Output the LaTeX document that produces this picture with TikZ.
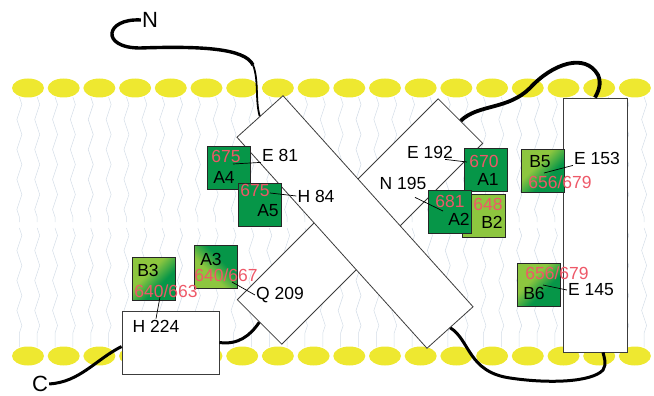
\documentclass[tikz,border=0pt]{standalone}
\usepackage{fontspec}
\setmainfont{Liberation Sans}
\usetikzlibrary{decorations.pathmorphing}
\definecolor{headyellow}{RGB}{238,232,48}
\definecolor{tailgrey}{RGB}{210,220,230}
\definecolor{sitedark}{RGB}{6,150,72}
\definecolor{sitelight}{RGB}{141,198,63}
\definecolor{numred}{RGB}{238,88,104}
\definecolor{helixline}{RGB}{60,60,60}
\pgfdeclarehorizontalshading{sitemix}{100bp}{color(0bp)=(sitelight); color(40bp)=(sitelight); color(60bp)=(sitedark); color(100bp)=(sitedark)}

\begin{document}
\begin{tikzpicture}[
  helix/.style={rectangle, draw=helixline, fill=white, line width=0.8pt, inner sep=0pt},
  site/.style={rectangle, draw=black!85, line width=0.7pt, minimum size=43pt, inner sep=0pt},
  darkbox/.style={site, fill=sitedark},
  lightbox/.style={site, fill=sitelight},
  mixbox/.style={site, shading=sitemix, shading angle=#1},
  num/.style={text=numred, inner sep=1pt, font=\fontsize{17.5}{18}\selectfont},
  res/.style={text=black, inner sep=1pt, font=\fontsize{17.5}{18}\selectfont},
  chain/.style={line width=3pt, draw=black},
  lead/.style={line width=0.7pt, draw=black},
  tail/.style={draw=tailgrey, line width=0.5pt, decorate, decoration={zigzag, segment length=30pt, amplitude=2.5pt}}
]
\useasboundingbox (0pt,0pt) rectangle (654pt,-396pt);

% lipid tails, then head groups of both leaflets
\foreach \k in {1,...,36} {
  \draw[tail] ({1.5pt+\k*17.85pt}, -97pt) -- ({1.5pt+\k*17.85pt}, -222pt);
  \draw[tail] ({1.5pt+\k*17.85pt}, -228pt) -- ({1.5pt+\k*17.85pt}, -347pt);
}
\foreach \i in {0,...,17} {
  \fill[headyellow] ({28pt+\i*35.7pt}, -88pt) ellipse [x radius=16pt, y radius=9.5pt];
  \fill[headyellow] ({28pt+\i*35.7pt}, -356pt) ellipse [x radius=16pt, y radius=9.5pt];
}

% helices
\node (h2) [helix, minimum width=284pt, minimum height=63pt, rotate=45] at (360pt, -221.5pt) {};
\node (h1) [helix, minimum width=284pt, minimum height=62pt, rotate=-48] at (355pt, -222pt) {};
\node (h6) [helix, minimum width=64pt, minimum height=254pt] at (595pt, -225pt) {};
\node (h7) [helix, minimum width=97pt, minimum height=63pt] at (170.5pt, -342.5pt) {};

% termini and loops
\node (nterm) [inner sep=1pt, font=\fontsize{22}{22}\selectfont] at (150pt, -20pt) {N};
\node (cterm) [inner sep=0pt, font=\fontsize{22}{22}\selectfont] at (40pt, -384pt) {C};
\coordinate (nbend) at (253pt, -65pt);
\draw[chain, line width=3.4pt] (nterm.west) .. controls (105pt, -18pt) and (100pt, -48pt) .. (140pt, -48pt)
  .. controls (200pt, -46pt) and (245pt, -48pt) .. (nbend);
\draw[chain, line width=1.8pt] (nbend) .. controls (259pt, -80pt) and (255pt, -100pt) .. (h1.west);
\draw[chain, line width=3.8pt] (h2.east) .. controls (478pt, -104pt) and (508pt, -110pt) .. (530pt, -88pt)
  .. controls (552pt, -64pt) and (585pt, -52pt) .. (598pt, -75pt)
  .. controls (602pt, -84pt) and (598pt, -92pt) .. (h6.north);
\draw[chain] (h1.east) .. controls (470pt, -340pt) and (468pt, -372pt) .. (510pt, -378pt)
  .. controls (550pt, -384pt) and (592pt, -382pt) .. (603pt, -370pt)
  .. controls (607pt, -364pt) and (604pt, -357pt) .. ([xshift=8pt]h6.south);
\draw[chain] (h7.east) .. controls (238pt, -345pt) and (250pt, -336pt) .. (h2.west);
\draw[chain] ([xshift=1pt]cterm.east) .. controls (80pt, -382pt) and (95pt, -360pt) .. ([yshift=-4pt]h7.west);

% chromophore sites
\node (A4) [darkbox] at (228.5pt, -167.5pt) {};
\node (A4n) [num] at (226pt, -156pt) {675};
\node (A4l) [res] at (224pt, -177pt) {A4};
\node (A5) [darkbox] at (260pt, -205pt) {};
\node (A5n) [num] at (255pt, -190pt) {675};
\node (A5l) [res] at (268pt, -211pt) {A5};
\node (A1) [darkbox] at (486pt, -170pt) {};
\node (A1n) [num] at (484pt, -161pt) {670};
\node (A1l) [res] at (488pt, -179pt) {A1};
\node (B2) [lightbox] at (484pt, -216pt) {};
\node (B2n) [num] at (488pt, -204pt) {648};
\node (B2l) [res] at (492pt, -222pt) {B2};
\node (A2) [darkbox] at (449.5pt, -211.5pt) {};
\node (A2n) [num] at (450pt, -201pt) {681};
\node (A2l) [res] at (459pt, -219pt) {A2};
\node (B5) [mixbox=-45] at (542.5pt, -171pt) {};
\node (B5l) [res] at (540pt, -162pt) {B5};
\node (B5n) [num] at (560pt, -182pt) {656/679};
\node (B6) [mixbox=-45] at (538.5pt, -284.5pt) {};
\node (B6n) [num] at (557pt, -273pt) {656/679};
\node (B6l) [res] at (534pt, -293pt) {B6};
\node (A3) [mixbox=45] at (216pt, -267pt) {};
\node (A3l) [res] at (211pt, -259pt) {A3};
\node (A3n) [num] at (226pt, -275pt) {640/667};
\node (B3) [mixbox=-45] at (154pt, -279pt) {};
\node (B3l) [res] at (148pt, -270pt) {B3};
\node (B3n) [num] at (166pt, -291pt) {640/663};

% residues
\node (e81) [res] at (280pt, -155pt) {E 81};
\node (h84) [res] at (316pt, -196pt) {H 84};
\node (e192) [res] at (430pt, -152pt) {E 192};
\node (n195) [res] at (403pt, -183pt) {N 195};
\node (q209) [res] at (280pt, -295pt) {Q 209};
\node (h224) [res] at (156pt, -326pt) {H 224};
\node (e153) [res] at (597pt, -158pt) {E 153};
\node (e145) [res] at (591pt, -290pt) {E 145};

\coordinate (p81) at (233pt, -164pt);
\coordinate (p84) at (270pt, -193pt);
\coordinate (p192) at (467pt, -162pt);
\coordinate (p195) at (443pt, -211pt);
\coordinate (p209) at (232pt, -282pt);
\coordinate (p224) at (160pt, -297pt);
\coordinate (p153) at (544pt, -173pt);
\coordinate (p145) at (543pt, -285pt);
\draw[lead] (p81) -- (e81.south west);
\draw[lead] (p84) -- (h84.west);
\draw[lead] ([xshift=-9pt]e192.south east) -- (p192);
\draw[lead] ([xshift=12pt, yshift=-7pt]n195.south) -- (p195);
\draw[lead] (p209) -- (q209.west);
\draw[lead] (h224.north) -- (p224);
\draw[lead] (p153) -- (e153.south west);
\draw[lead] (p145) -- (e145.west);
\end{tikzpicture}
\end{document}
